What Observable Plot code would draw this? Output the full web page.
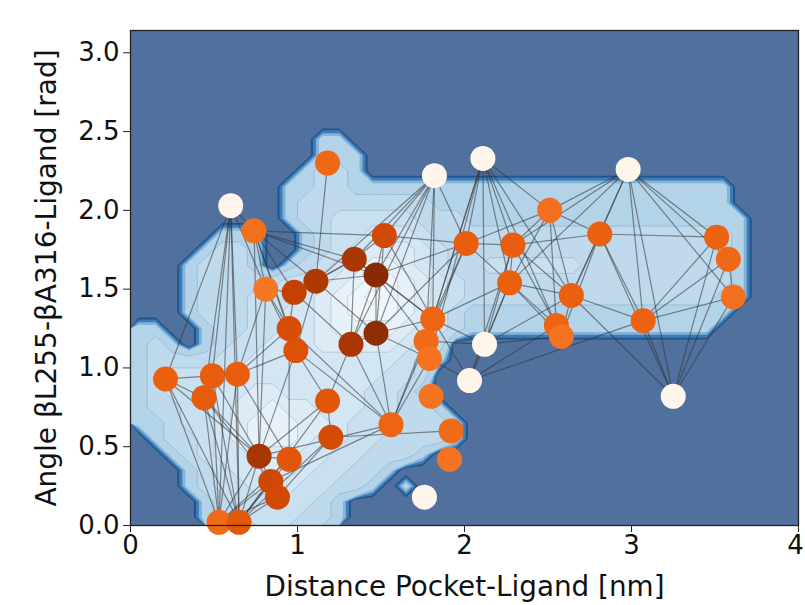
<!DOCTYPE html>
<html>
<head>
<meta charset="utf-8">
<script src="https://cdn.jsdelivr.net/npm/d3@7"></script>
<script src="https://cdn.jsdelivr.net/npm/@observablehq/plot@0.6"></script>
<style>
  html, body { margin: 0; padding: 0; background: #ffffff; }
  #chart { width: 805px; height: 605px; overflow: hidden; }
</style>
</head>
<body>
<div id="chart"></div>
<script>
// ---- axis ticks & labels ----
const xTicks = [0, 1, 2, 3, 4];
const yTicks = [0, 0.5, 1.0, 1.5, 2.0, 2.5, 3.0];
const xLabel = "Distance Pocket-Ligand [nm]";
const yLabel = "Angle βL255-βA316-Ligand [rad]";

// ---- free-energy landscape, levels (0 = empty) ----
// 40 columns (x 0..4, step 0.1) in groups of ten, 32 rows from y=3.2 (top) down to y=0
const landscapeRows = [
  "0000000000 0000000000 0000000000 0000000000",
  "0000000000 0000000000 0000000000 0000000000",
  "0000000000 0000000000 0000000000 0000000000",
  "0000000000 0000000000 0000000000 0000000000",
  "0000000000 0000000000 0000000000 0000000000",
  "0000000000 0000000000 0000000000 0000000000",
  "0000000000 0000000000 0000000000 0000000000",
  "0000000000 0110000000 0000000000 0000000000",
  "0000000000 0111000000 0000000000 0000000000",
  "0000000000 1221000000 0000000000 0000000000",
  "0000000001 1221111111 1111111111 1111110000",
  "0000000001 2222222211 1111111111 1111110000",
  "0000000001 2233333222 1111111111 1111111000",
  "0000011100 1233444322 2222222222 2222221000",
  "0000122100 1234555432 2222222222 2222221000",
  "0001222101 2345665432 2333333222 2222221000",
  "0001222223 3456776543 2222222222 2222221000",
  "0001222333 4567876543 2222222222 2222211000",
  "0001222334 4567776532 1111111111 1111110000",
  "1100122334 4566665432 1111111111 1111100000",
  "1210123344 4555554320 0000000000 0000000000",
  "1222233444 4444443210 0000000000 0000000000",
  "1233334444 4444433200 0000000000 0000000000",
  "1233344554 4444332100 0000000000 0000000000",
  "1223345565 5444332210 0000000000 0000000000",
  "1123345666 5543332221 0000000000 0000000000",
  "0122345666 5443322221 0000000000 0000000000",
  "0012344555 4433222100 0000000000 0000000000",
  "0001234455 4332210000 0000000000 0000000000",
  "0001233444 3322101000 0000000000 0000000000",
  "0000123333 3210000000 0000000000 0000000000",
  "0000122333 2210000000 0000000000 0000000000"
];
const landscapeLevels = landscapeRows.flatMap(r =>
  Array.from(r.replace(/ /g, "").padEnd(40, "0").slice(0, 40), Number));

// ---- network nodes (x = distance nm, y = angle rad, shade = node colour value) ----
const nodeX = [0.60, 0.74, 1.18, 1.82, 2.11, 2.98, 2.51, 2.81, 2.01, 2.29,
               1.52, 3.51, 3.58, 3.61, 2.64, 2.27, 3.07, 1.34, 1.11, 1.47,
               0.98, 0.81, 0.95, 0.99, 1.32, 1.47, 1.81, 1.77, 1.79, 2.12,
               2.03, 2.55, 2.58, 3.25, 0.21, 0.49, 0.64, 0.44, 1.18, 1.20,
               1.56, 1.80, 1.92, 1.91, 0.77, 0.95, 0.84, 0.88, 1.76, 0.53, 0.65];
const nodeY = [2.03, 1.87, 2.30, 2.22, 2.33, 2.26, 2.00, 1.85, 1.79, 1.78,
               1.84, 1.83, 1.69, 1.45, 1.46, 1.54, 1.30, 1.69, 1.55, 1.59,
               1.48, 1.50, 1.25, 1.11, 1.15, 1.22, 1.31, 1.17, 1.06, 1.15,
               0.92, 1.27, 1.20, 0.82, 0.93, 0.95, 0.96, 0.81, 0.79, 0.56,
               0.64, 0.82, 0.60, 0.42, 0.44, 0.42, 0.28, 0.18, 0.18, 0.02, 0.02];
const nodeShade = [0.00, 0.60, 0.63, 0.00, 0.00, 0.00, 0.60, 0.66, 0.67, 0.67,
                   0.76, 0.65, 0.63, 0.60, 0.66, 0.66, 0.65, 0.87, 0.86, 0.97,
                   0.80, 0.58, 0.74, 0.72, 0.87, 0.95, 0.64, 0.62, 0.59, 0.00,
                   0.00, 0.64, 0.59, 0.00, 0.66, 0.67, 0.67, 0.68, 0.70, 0.75,
                   0.64, 0.59, 0.62, 0.59, 0.88, 0.70, 0.77, 0.76, 0.00, 0.62, 0.69];

// ---- network edges (1-based node ids) ----
const edgeFrom = [
  1,1,1,1,1,1,1,1,
  2,2,2,2,2,2,2,2,2,
  3,
  4,4,4,4,4,4,4,4,4,
  5,5,5,5,5,5,5,5,5,5,
  6,6,6,6,6,6,6,6,6,6,
  34,34,34,34,34,34,
  12,12,12,13,13,14,
  8,8,8,8,8,
  7,7,7,7,7,
  9,9,9,9,9,9,9,
  10,10,10,10,10,
  16,16,16,16,16,16,
  15,15,15,
  30,30,30,
  31,31,31,31,
  11,11,11,11,18,18,18,18,19,19,19,19,20,20,20,20,21,21,21,22,22,23,23,24,24,24,
  25,25,25,26,26,26,27,28,29,21,22,23,
  35,35,35,35,35,36,36,36,36,36,37,37,37,37,38,38,38,38,39,39,39,40,40,40,
  41,41,45,45,45,45,46,46,47,47,48,48,22,23
];
const edgeTo = [
  2,35,36,37,22,50,51,38,
  18,19,20,11,22,21,23,24,45,
  19,
  11,18,20,9,27,28,26,25,19,
  9,10,16,27,29,30,32,7,15,28,
  7,8,15,16,17,34,12,13,14,10,
  17,8,12,13,14,15,
  13,17,8,14,17,17,
  7,10,15,17,33,
  10,9,16,15,32,
  10,16,27,28,11,20,26,
  16,15,32,30,31,
  15,32,33,27,30,31,
  33,30,17,
  33,27,28,
  32,29,17,27,
  18,20,27,26,19,20,25,27,20,21,24,26,26,25,27,28,22,23,25,23,24,24,41,41,39,45,
  26,39,41,41,27,29,41,41,41,18,37,37,
  36,38,50,51,45,37,38,45,50,51,24,46,50,51,45,47,51,50,45,51,40,43,51,48,
  45,47,50,51,46,47,50,51,50,51,50,51,45,46
];

// ---- colours for the landscape bands ----
const bandThresholds = [0.3, 0.42, 0.6, 0.78, 1.5, 2.5, 3.5, 4.5, 5.5, 6.5, 7.5];
const bandColors = ["#1f548d", "#3f7bb5", "#82b3d9", "#b3d3e8", "#bfdaec", "#c9e0f0",
                    "#d3e6f3", "#dcebf6", "#e6f1f9", "#eff6fb", "#f7fafd"];

const nodes = nodeX.map((x, i) => ({x, y: nodeY[i], shade: nodeShade[i]}));
const edges = edgeFrom.map((a, i) => ({a: nodes[a - 1], b: nodes[edgeTo[i] - 1]}));

const grid = {x1: 0, y1: 3.2, x2: 4, y2: 0, width: 40, height: 32, clip: true};

const marks = [
  Plot.frame({fill: "#50709e", stroke: "none"}),
  ...bandThresholds.map((t, i) =>
    Plot.contour(landscapeLevels, {...grid, thresholds: [t], fill: bandColors[i], stroke: "none"})),
  Plot.contour(landscapeLevels, {...grid, thresholds: [1.5, 2.5, 3.5, 4.5, 5.5, 6.5, 7.5],
    fill: "none", stroke: "#4d6d92", strokeOpacity: 0.3, strokeWidth: 0.8}),
  Plot.link(edges, {x1: d => d.a.x, y1: d => d.a.y, x2: d => d.b.x, y2: d => d.b.y,
    stroke: "#333333", strokeOpacity: 0.55, strokeWidth: 1.2, clip: true}),
  Plot.dot(nodes, {x: "x", y: "y", r: 12.5, fill: "shade", stroke: "none"}),
  Plot.frame({stroke: "#222222", strokeWidth: 1.3}),
  Plot.axisX({ticks: xTicks, tickSize: 7, tickPadding: 3, tickFormat: d => String(d),
    label: null, fontSize: 26, stroke: "#222"}),
  Plot.axisY({ticks: yTicks, tickSize: 7, tickPadding: 4, tickFormat: d3.format(".1f"),
    label: null, fontSize: 26, stroke: "#222"}),
  Plot.text([xLabel], {text: d => d, frameAnchor: "bottom", dy: 62, lineAnchor: "middle",
    fontSize: 28, fill: "#111"}),
  Plot.text([yLabel], {text: d => d, frameAnchor: "left", dx: -83, rotate: -90,
    lineAnchor: "middle", textAnchor: "middle", fontSize: 28, fill: "#111"})
];

const chart = Plot.plot({
  width: 805,
  height: 605,
  marginLeft: 130,
  marginRight: 7,
  marginTop: 30,
  marginBottom: 80,
  x: {domain: [0, 4]},
  y: {domain: [0, Math.PI]},
  color: {type: "linear", scheme: "oranges", domain: [0, 1]},
  style: {fontFamily: "DejaVu Sans", fontSize: "26px", background: "#ffffff", color: "#111"},
  marks
});
document.getElementById("chart").appendChild(chart);

// widen the x label to the reference's span and keep the last tick label inside the page
chart.querySelectorAll("text").forEach(t => {
  if (t.textContent === xLabel) {
    t.setAttribute("textLength", "400");
    t.setAttribute("lengthAdjust", "spacingAndGlyphs");
  }
});
chart.querySelectorAll('[aria-label="x-axis tick label"] text').forEach(t => {
  if (t.textContent === "4") t.setAttribute("dx", "-3");
});
</script>
</body>
</html>
